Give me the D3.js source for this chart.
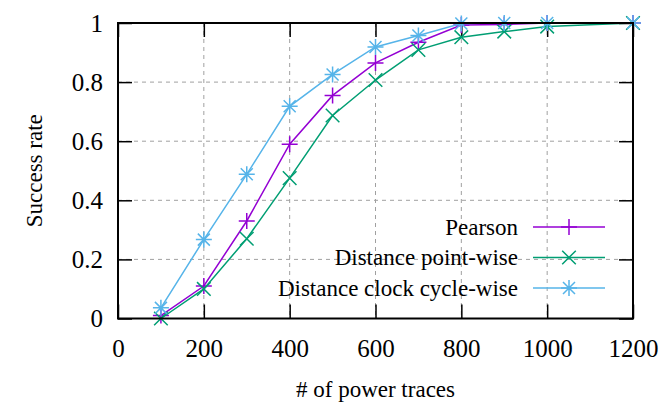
<!DOCTYPE html>
<html>
<head>
<meta charset="utf-8">
<script src="https://cdn.jsdelivr.net/npm/d3@7"></script>
</head>
<body>
<div id="chart"></div>
<script>
// data
var traces = [100, 200, 300, 400, 500, 600, 700, 800, 900, 1000, 1200];
var pearson = [0.01, 0.11, 0.33, 0.59, 0.755, 0.865, 0.935, 0.993, 0.995, 1.0, 1.0];
var pointWise = [0.0, 0.1, 0.27, 0.475, 0.687, 0.807, 0.909, 0.952, 0.971, 0.988, 1.0];
var cycleWise = [0.036, 0.267, 0.488, 0.718, 0.826, 0.919, 0.958, 0.998, 1.0, 1.0, 1.0];
var seriesNames = ["Pearson", "Distance point-wise", "Distance clock cycle-wise"];
var xTicks = [0, 200, 400, 600, 800, 1000, 1200];
var yTicks = [0, 0.2, 0.4, 0.6, 0.8, 1];

var serif = "Liberation Serif";

d3.select("body").style("margin", "0px");

var svgWidth = 662;
var svgHeight = 408;
var margin = { top: 23, right: 29, bottom: 89.5, left: 118 };
var width = svgWidth - margin.left - margin.right;
var height = svgHeight - margin.top - margin.bottom;

var svg = d3.select("#chart").append("svg")
  .attr("width", svgWidth)
  .attr("height", svgHeight)
  .style("display", "block");

var chartGroup = svg.append("g")
  .attr("transform", `translate(${margin.left}, ${margin.top})`);

var xScale = d3.scaleLinear().domain([0, 1200]).range([0, width]);
var yScale = d3.scaleLinear().domain([0, 1]).range([height, 0]);

// place a start-anchored text so it ends / centres on x
function anchorText(sel, x, mode) {
  sel.each(function() {
    var len = this.getComputedTextLength();
    var shift = mode === "end" ? len : len / 2;
    d3.select(this).attr("text-anchor", null).attr("x", x - shift);
  });
}

// grid lines
chartGroup.selectAll(".vgrid")
  .data(xTicks.slice(1, -1))
  .enter().append("line")
  .attr("x1", d => xScale(d)).attr("x2", d => xScale(d))
  .attr("y1", 0).attr("y2", height)
  .attr("stroke", "#a0a0a0").attr("stroke-width", 1)
  .attr("stroke-dasharray", "4,4");

chartGroup.selectAll(".hgrid")
  .data(yTicks.slice(1, -1))
  .enter().append("line")
  .attr("x1", 0).attr("x2", width)
  .attr("y1", d => yScale(d)).attr("y2", d => yScale(d))
  .attr("stroke", "#a0a0a0").attr("stroke-width", 1)
  .attr("stroke-dasharray", "4,4");

// axes, ticks inward, mirrored
var tickLen = 14;
var bottomAxis = d3.axisBottom(xScale).tickValues(xTicks).tickSizeInner(-tickLen).tickSizeOuter(0).tickFormat(d3.format("d"));
var leftAxis = d3.axisLeft(yScale).tickValues(yTicks).tickSizeInner(-tickLen).tickSizeOuter(0).tickFormat(d3.format("~g"));
var topAxis = d3.axisTop(xScale).tickValues(xTicks).tickSizeInner(-tickLen).tickSizeOuter(0).tickFormat("");
var rightAxis = d3.axisRight(yScale).tickValues(yTicks).tickSizeInner(-tickLen).tickSizeOuter(0).tickFormat("");

function styleAxis(g) {
  g.attr("font-family", null).attr("font-size", null).attr("text-anchor", null);
  g.select(".domain").remove();
  g.selectAll(".tick line").attr("stroke", "#000").attr("stroke-width", 1.5);
  g.selectAll(".tick text")
    .attr("font-family", serif)
    .attr("font-size", 25)
    .attr("fill", "#000");
}

chartGroup.append("g").attr("transform", `translate(0, ${height})`).call(bottomAxis).call(styleAxis)
  .selectAll(".tick text").attr("y", 38).attr("dy", null).call(anchorText, 0, "middle");
chartGroup.append("g").call(leftAxis).call(styleAxis)
  .selectAll(".tick text").attr("dy", "0.33em").call(anchorText, -15, "end");
chartGroup.append("g").call(topAxis).call(styleAxis);
chartGroup.append("g").attr("transform", `translate(${width}, 0)`).call(rightAxis).call(styleAxis);

// marker shapes
function markerPath(kind, s) {
  var p = d3.path();
  if (kind === "plus" || kind === "star") {
    p.moveTo(-s, 0); p.lineTo(s, 0);
    p.moveTo(0, -s); p.lineTo(0, s);
  }
  if (kind === "cross" || kind === "star") {
    var k = kind === "star" ? s * 0.75 : s * 0.85;
    p.moveTo(-k, -k); p.lineTo(k, k);
    p.moveTo(-k, k); p.lineTo(k, -k);
  }
  return p.toString();
}

var series = [
  { name: seriesNames[0], values: pearson, color: "#9400d3", marker: "plus" },
  { name: seriesNames[1], values: pointWise, color: "#009e73", marker: "cross" },
  { name: seriesNames[2], values: cycleWise, color: "#56b4e9", marker: "star" }
];

var line = d3.line()
  .x((d, i) => xScale(traces[i]))
  .y(d => yScale(d));

series.forEach(function(s) {
  chartGroup.append("path")
    .datum(s.values)
    .attr("d", line)
    .attr("fill", "none")
    .attr("stroke", s.color)
    .attr("stroke-width", 1.5);

  chartGroup.selectAll(null)
    .data(s.values)
    .enter().append("path")
    .attr("transform", (d, i) => `translate(${xScale(traces[i])}, ${yScale(d)})`)
    .attr("d", markerPath(s.marker, 8))
    .attr("fill", "none")
    .attr("stroke", s.color)
    .attr("stroke-width", 1.5);
});

// frame
chartGroup.append("rect")
  .attr("width", width).attr("height", height)
  .attr("fill", "none").attr("stroke", "#000").attr("stroke-width", 2);

// legend
var legend = svg.append("g").attr("transform", "translate(518, 227)");
series.forEach(function(s, i) {
  var row = legend.append("g").attr("transform", `translate(0, ${i * 30.5})`);
  row.append("text")
    .attr("y", 0).attr("dy", "0.33em")
    .attr("font-family", serif)
    .attr("font-size", 23)
    .text(s.name)
    .call(anchorText, 0, "end");
  row.append("line")
    .attr("x1", 15).attr("x2", 87)
    .attr("stroke", s.color).attr("stroke-width", 1.5);
  row.append("path")
    .attr("transform", "translate(51, 0)")
    .attr("d", markerPath(s.marker, 8))
    .attr("fill", "none").attr("stroke", s.color).attr("stroke-width", 1.5);
});

// axis labels
svg.append("text")
  .attr("transform", `translate(42, ${margin.top + height / 2}) rotate(-90)`)
  .attr("y", 0)
  .attr("font-family", serif)
  .attr("font-size", 23)
  .text("Success rate")
  .call(anchorText, 0, "middle");

svg.append("text")
  .attr("y", 397)
  .attr("font-family", serif)
  .attr("font-size", 23)
  .text("# of power traces")
  .call(anchorText, margin.left + width / 2, "middle");
</script>
</body>
</html>
